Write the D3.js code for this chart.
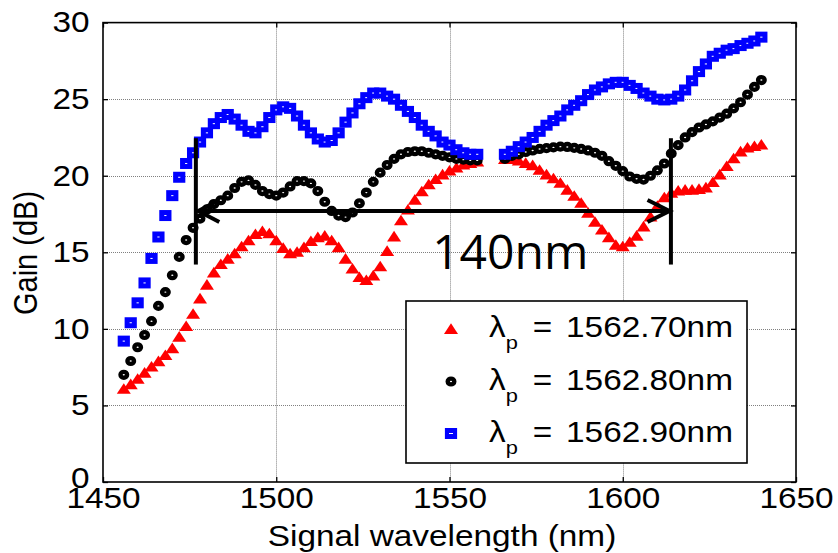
<!DOCTYPE html>
<html><head><meta charset="utf-8">
<script src="https://cdn.jsdelivr.net/npm/d3@7"></script>
<style>html,body{margin:0;padding:0;background:#fff;} svg{display:block;}</style>
</head><body><svg id="c" width="838" height="553"></svg>
<script>
// ---------------- data ----------------
const wavelength = [
  1456,1458,1460,1462,1464,1466,1468,1470,1472,1474,1476,1478,1480,1482,1484,1486,1488,1490,
  1492,1494,1496,1498,1500,1502,1504,1506,1508,1510,1512,1514,1516,1518,1520,1522,1524,1526,
  1528,1530,1532,1534,1536,1538,1540,1542,1544,1546,1548,1550,1552,1554,1556,1558,
  1566,1568,1570,1572,1574,1576,1578,1580,1582,1584,1586,1588,1590,1592,1594,1596,1598,1600,
  1602,1604,1606,1608,1610,1612,1614,1616,1618,1620,1622,1624,1626,1628,1630,1632,1634,1636,1638,1640
];
const gain1562_70 = [
  6.1,6.4,6.75,7.15,7.55,7.9,8.3,8.75,9.5,10.2,11.0,12.0,12.9,13.7,14.25,14.6,14.95,15.4,
  15.8,16.2,16.4,16.25,15.8,15.3,14.95,15.05,15.35,15.75,16.0,16.1,15.8,15.35,14.6,13.95,13.4,13.2,
  13.5,14.1,15.1,16.05,17.1,17.8,18.45,19.0,19.45,19.8,20.1,20.35,20.55,20.75,20.85,20.95,
  21.1,21.1,21.0,20.85,20.7,20.4,20.1,19.85,19.55,19.1,18.7,18.25,17.6,17.0,16.5,16.0,15.5,15.4,
  15.7,16.1,16.7,17.35,18.05,18.6,18.9,19.05,19.1,19.1,19.15,19.25,19.6,20.1,20.65,21.15,21.6,21.85,21.95,22.05
];
const gain1562_80 = [
  7.0,7.9,8.8,9.6,10.5,11.5,12.4,13.5,14.7,15.8,16.6,17.2,17.8,18.15,18.4,18.7,19.2,19.6,
  19.7,19.4,19.0,18.8,18.7,18.9,19.3,19.65,19.65,19.5,19.0,18.3,17.7,17.4,17.3,17.6,18.2,18.9,
  19.6,20.2,20.7,21.1,21.4,21.55,21.6,21.6,21.5,21.4,21.3,21.2,21.1,21.05,21.0,21.0,
  21.1,21.3,21.4,21.55,21.65,21.75,21.8,21.85,21.9,21.88,21.82,21.75,21.65,21.5,21.3,20.95,20.65,20.3,
  19.95,19.8,19.75,20.0,20.35,20.8,21.45,22.0,22.5,22.85,23.15,23.35,23.55,23.8,24.05,24.4,24.8,25.3,25.8,26.25
];
const gain1562_90 = [
  9.2,10.4,11.7,13.0,14.6,16.0,17.4,18.7,19.9,20.8,21.5,22.2,22.8,23.4,23.8,24.0,23.7,23.3,
  22.9,22.8,23.2,23.8,24.3,24.5,24.4,23.9,23.3,22.8,22.4,22.2,22.3,22.8,23.5,24.1,24.7,25.1,
  25.4,25.4,25.2,25.0,24.6,24.2,23.8,23.3,22.9,22.6,22.2,22.0,21.7,21.5,21.4,21.4,
  21.4,21.6,21.9,22.2,22.5,22.9,23.3,23.6,23.9,24.3,24.6,24.9,25.3,25.6,25.8,26.0,26.1,26.1,
  25.9,25.7,25.4,25.2,25.0,24.95,25.0,25.2,25.6,26.2,26.8,27.3,27.8,28.0,28.2,28.3,28.5,28.65,28.8,29.05
];
const pumpLabels = ["1562.70nm", "1562.80nm", "1562.90nm"];
const xTicks = [1450, 1500, 1550, 1600, 1650];
const yTicks = [0, 5, 10, 15, 20, 25, 30];
const xTitle = "Signal wavelength (nm)";
const yTitle = "Gain (dB)";
const bandEdges = [1476.8, 1613.9];      // nm, vertical marker bars
const bandBarGain = [14.2, 22.45];       // dB extent of bars
const arrowSpan = [1477.5, 1613.5];      // nm
const arrowGain = 17.7;                  // dB
const bandText = "140nm";
const bandTextPos = [1545.0, 13.9];      // nm, dB (text start / baseline)

// ---------------- setup ----------------
const FONT = "'Liberation Sans', Arial, Helvetica, sans-serif";
const SX = 1.15;
const svg = d3.select("#c");
const x = d3.scaleLinear().domain([1450, 1650]).range([103, 796]);
const y = d3.scaleLinear().domain([0, 30]).range([482, 22.6]);
const [X0, X1] = x.range(), [Y0, Y1] = y.range();

// grid
const grid = svg.append("g").attr("stroke", "#808080").attr("stroke-width", 1).attr("stroke-dasharray", "1,1");
grid.selectAll("line.gx").data(xTicks.slice(1, -1)).join("line")
  .attr("x1", d => Math.round(x(d)) + 0.5).attr("x2", d => Math.round(x(d)) + 0.5)
  .attr("y1", Y1).attr("y2", Y0);
grid.selectAll("line.gy").data(yTicks.slice(1, -1)).join("line")
  .attr("y1", d => Math.round(y(d)) + 0.5).attr("y2", d => Math.round(y(d)) + 0.5)
  .attr("x1", X0).attr("x2", X1);

// axes (ticks inward on all sides)
function styleAxis(g) {
  g.select(".domain").remove();
  g.selectAll(".tick line").attr("stroke", "#000").attr("stroke-width", 1.3);
  g.selectAll(".tick text").attr("fill", "#000").attr("font-family", FONT).attr("font-size", 29)
    .attr("transform", `scale(${SX},1)`);
}
svg.append("g").attr("transform", `translate(0,${Y0})`)
  .call(d3.axisBottom(x).tickValues(xTicks).tickSize(-5).tickPadding(5).tickFormat(d3.format("d")))
  .call(styleAxis);
svg.append("g").attr("transform", `translate(0,${Y1})`)
  .call(d3.axisTop(x).tickValues(xTicks).tickSize(-5).tickFormat(""))
  .call(styleAxis);
const yAx = svg.append("g").attr("transform", `translate(${X0},0)`)
  .call(d3.axisLeft(y).tickValues(yTicks).tickSize(-5).tickPadding(11.7).tickFormat(d3.format("d")))
  .call(styleAxis);
// the "0" label sits slightly higher so it clears "1450"
yAx.selectAll(".tick").filter(d => d === 0).select("text").attr("dy", "0.2em");

// box
svg.append("rect").attr("x", X0).attr("y", Y1).attr("width", X1 - X0).attr("height", Y0 - Y1)
  .attr("fill", "none").attr("stroke", "#000").attr("stroke-width", 1.6);
svg.append("g").attr("transform", `translate(${X1},0)`)
  .call(d3.axisRight(y).tickValues(yTicks).tickSize(-5).tickFormat(""))
  .call(styleAxis);

// axis titles
svg.append("g").attr("transform", `translate(442,546) scale(${SX},1)`)
  .append("text").attr("text-anchor", "middle").attr("font-family", FONT).attr("font-size", 29)
  .text(xTitle);
svg.append("g").attr("transform", `translate(37,253) scale(${SX},1) rotate(-90)`)
  .append("text").attr("text-anchor", "middle").attr("font-family", FONT).attr("font-size", 29)
  .text(yTitle);

// markers
const markers = {
  tri: (g, col) => g.append("path").attr("d", "M0,-5.4L7,5.2L-7,5.2Z").attr("fill", col),
  circ: (g, col) => g.append("ellipse").attr("rx", 3.3).attr("ry", 2.9).attr("fill", "#fff")
    .attr("stroke", col).attr("stroke-width", 4.4),
  sq: (g, col) => g.append("rect").attr("x", -3.6).attr("y", -3.0).attr("width", 7.2).attr("height", 6.0)
    .attr("fill", "#fff").attr("stroke", col).attr("stroke-width", 5)
};
const series = [
  { values: gain1562_70, shape: "tri", color: "#ff0000" },
  { values: gain1562_80, shape: "circ", color: "#000000" },
  { values: gain1562_90, shape: "sq", color: "#0000ff" }
];
series.forEach(s => {
  const pts = wavelength.map((w, i) => [w, s.values[i]]);
  svg.append("g").selectAll("g").data(pts).join("g")
    .attr("transform", d => `translate(${x(d[0])},${y(d[1])})`)
    .each(function () { markers[s.shape](d3.select(this), s.color); });
});

// annotation: bandwidth bars + double arrow
const ann = svg.append("g").attr("stroke", "#000").attr("stroke-width", 4).attr("fill", "none");
ann.selectAll("line.bar").data(bandEdges).join("line")
  .attr("x1", d => x(d)).attr("x2", d => x(d))
  .attr("y1", y(bandBarGain[0])).attr("y2", y(bandBarGain[1]));
const ay = y(arrowGain), ax0 = x(arrowSpan[0]), ax1 = x(arrowSpan[1]);
ann.append("line").attr("x1", ax0).attr("x2", ax1).attr("y1", ay).attr("y2", ay);
ann.append("path").attr("d", `M${ax0 + 21},${ay - 11}L${ax0},${ay}L${ax0 + 21},${ay + 11}`);
ann.append("path").attr("d", `M${ax1 - 22},${ay - 11}L${ax1},${ay}L${ax1 - 22},${ay + 11}`);
svg.append("text").attr("x", x(bandTextPos[0])).attr("y", y(bandTextPos[1]))
  .attr("font-family", "'Open Sans', sans-serif").attr("font-size", 48).attr("fill", "#000")
  .text(bandText);

// legend
const lg = svg.append("g");
lg.append("rect").attr("x", 406).attr("y", 301).attr("width", 341).attr("height", 162)
  .attr("fill", "#fff").attr("stroke", "#000").attr("stroke-width", 1.6);
const rowBase = [336.7, 389.5, 441.5];
series.forEach((s, i) => {
  const mg = lg.append("g").attr("transform", `translate(451,${rowBase[i] - 8})`);
  markers[s.shape](mg, s.color);
  const t = lg.append("g").attr("transform", `translate(489,${rowBase[i]}) scale(${SX},1)`)
    .append("text").attr("font-family", FONT).attr("font-size", 29).attr("fill", "#000");
  t.append("tspan").attr("x", 0).text("λ");
  t.append("tspan").attr("font-size", 19).attr("dy", 12).text("p");
  t.append("tspan").attr("x", 38).attr("dy", -12).text("=");
  t.append("tspan").attr("x", 67).text(pumpLabels[i]);
});
</script>
</body></html>
